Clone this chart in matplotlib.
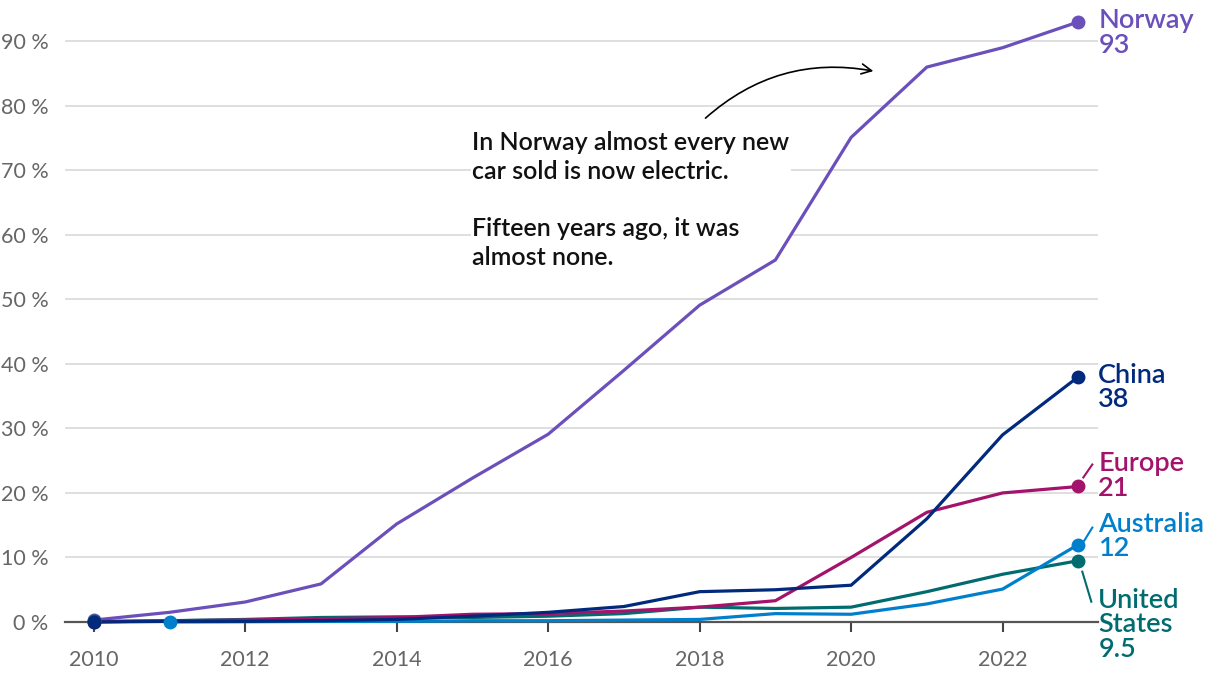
import matplotlib.pyplot as plt
import numpy as np

# Share of new car sales that are electric, per year (%)
years = list(range(2010, 2024))
norway = [0.3, 1.5, 3.1, 5.9, 15.2, 22.3, 29.1, 39.0, 49.1, 56.1, 75.1, 86.0, 89.0, 93.0]
china = [0.0, 0.1, 0.1, 0.2, 0.4, 0.9, 1.5, 2.4, 4.7, 5.0, 5.7, 16.0, 29.0, 38.0]
europe = [0.0, 0.2, 0.3, 0.5, 0.7, 1.2, 1.3, 1.7, 2.3, 3.3, 10.0, 17.0, 20.0, 21.0]
us = [0.1, 0.2, 0.4, 0.7, 0.8, 0.7, 0.9, 1.3, 2.3, 2.1, 2.3, 4.7, 7.4, 9.5]
aus_years = list(range(2011, 2024))
australia = [0.0, 0.05, 0.1, 0.1, 0.2, 0.2, 0.3, 0.4, 1.3, 1.2, 2.8, 5.1, 12.0]

labels = ['Norway\n93', 'United\nStates\n9.5', 'Australia\n12', 'Europe\n21', 'China\n38']
colors = ['#6b4fbb', '#006c70', '#0080cc', '#a4136b', '#012a7c']

plt.rcParams['font.family'] = ['Lato', 'DejaVu Sans']

fig = plt.figure(figsize=(12.2, 6.78), dpi=100)
ax = fig.add_axes([65 / 1220, 56 / 678, 1033 / 1220, 613 / 678])
ax.set_xlim(2009.62, 2023.26)
ax.set_ylim(0, 95)

series = [(years, norway), (years, us), (aus_years, australia), (years, europe), (years, china)]
for (xs, ys), c in zip(series, colors):
    ax.plot(xs, ys, color=c, lw=2.3, clip_on=False, zorder=3, solid_joinstyle='miter')
    ax.plot([xs[0], xs[-1]], [ys[0], ys[-1]], 'o', color=c, ms=9, clip_on=False, zorder=4)

# end labels: text offset in px, optional leader line (start, end) in px
label_pos = [
    ((20, 14), None),
    ((20, -27), ((4, -11), (13, -41))),
    ((20, 33), ((6, 4), (14, 17))),
    ((20, 35), ((5, 9), (14, 22))),
    ((20, 14), None),
]
for (xs, ys), c, lab, (off, leader) in zip(series, colors, labels, label_pos):
    ax.annotate(lab, (xs[-1], ys[-1]), xytext=off, textcoords='offset pixels',
                ha='left', va='top', color=c, fontsize=19.5, fontweight='semibold',
                linespacing=0.98, annotation_clip=False)
    if leader:
        p0 = ax.transData.transform((xs[-1], ys[-1]))
        pts = np.array([p0 + leader[0], p0 + leader[1]])
        d = ax.transData.inverted().transform(pts)
        ax.plot(d[:, 0], d[:, 1], color=c, lw=1.5, clip_on=False, zorder=3)

ax.text(2015.0, 76.1, 'In Norway almost every new\ncar sold is now electric.\n\n'
        'Fifteen years ago, it was\nalmost none.',
        ha='left', va='top', fontsize=18, fontweight='semibold', color='#111111',
        linespacing=1.3, zorder=2,
        bbox=dict(facecolor='white', edgecolor='none', pad=1))
ax.annotate('', xy=(2020.33, 85.3), xytext=(2018.05, 77.8),
            arrowprops=dict(arrowstyle='->', color='black', lw=1.2,
                            connectionstyle='arc3,rad=-0.25', mutation_scale=18))

ax.set_xticks(range(2010, 2023, 2))
ax.set_yticks(range(0, 100, 10))
ax.set_yticklabels([f'{v} %' for v in range(0, 100, 10)])
ax.grid(axis='y', color='#d9d9d9', lw=1.2, zorder=0)
ax.set_axisbelow(True)
for s in ['top', 'right', 'left']:
    ax.spines[s].set_visible(False)
ax.spines['bottom'].set_color('#555555')
ax.spines['bottom'].set_linewidth(1.6)
ax.spines['bottom'].set_zorder(2.5)
ax.tick_params(axis='x', length=7, width=1.5, color='#444444', pad=13,
               labelsize=15.5, labelcolor='#666666')
ax.tick_params(axis='y', length=0, pad=12, labelsize=15.5, labelcolor='#666666')

fig.savefig('out.png', dpi=100)
